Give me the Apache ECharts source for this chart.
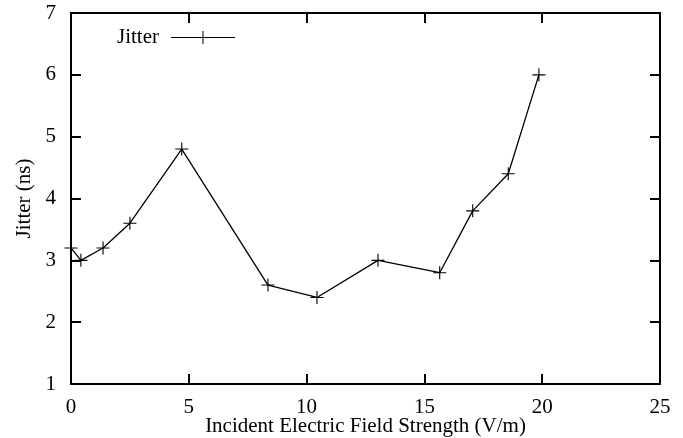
<!DOCTYPE html>
<html>
<head>
<meta charset="utf-8">
<script src="https://cdn.jsdelivr.net/npm/echarts@6/dist/echarts.min.js"></script>
<style>
  html, body { margin: 0; padding: 0; background: #fff; }
  #chart { width: 683px; height: 438px; }
</style>
</head>
<body>
<div id="chart"></div>
<script>
// field strength (V/m) and jitter (ns)
const fieldStrength = [0, 0.42, 1.36, 2.5, 4.7, 8.36, 10.44, 13.03, 15.65, 17.05, 18.56, 19.86];
const jitter = [3.2, 3.0, 3.2, 3.6, 4.8, 2.6, 2.4, 3.0, 2.8, 3.8, 4.4, 6.0];

const font = '"Liberation Serif", "DejaVu Serif", serif';
const plusIcon = 'path://M0,6.4h14v1.2h-14zM6.4,0h1.2v14h-1.2z';
const legendIcon = 'path://M0,6h64v1h-64zM31.5,0h1v13h-1z';

const chart = echarts.init(document.getElementById('chart'));

function ticks() {
    return { show: true, inside: true, length: 10, lineStyle: { color: '#000', width: 2 } };
}
function axisLine() {
    return { show: true, onZero: false, lineStyle: { color: '#000', width: 2 } };
}

chart.setOption({
    animation: false,
    backgroundColor: '#fff',
    textStyle: { fontFamily: font, color: '#000' },
    grid: { left: 71, right: 23, top: 13, bottom: 54, containLabel: false, outerBoundsMode: 'none' },
    legend: {
        left: 112,
        top: 22,
        align: 'right',
        itemWidth: 64,
        itemHeight: 13,
        itemGap: 4,
        icon: legendIcon,
        itemStyle: { color: '#000' },
        textStyle: { fontFamily: font, fontSize: 21, color: '#000', padding: [0, 7, 0, 0] },
        data: ['Jitter']
    },
    xAxis: [{
        type: 'value',
        min: 0, max: 25, interval: 5,
        name: 'Incident Electric Field Strength (V/m)',
        nameLocation: 'middle',
        nameGap: 32,
        nameMoveOverlap: false,
        nameTextStyle: { fontFamily: font, fontSize: 21, color: '#000' },
        axisLine: axisLine(),
        axisTick: ticks(),
        axisLabel: { margin: 13, fontFamily: font, fontSize: 21, color: '#000' },
        splitLine: { show: false }
    }, {
        type: 'value',
        position: 'top',
        min: 0, max: 25, interval: 5,
        axisLine: axisLine(),
        axisTick: ticks(),
        axisLabel: { show: false },
        splitLine: { show: false }
    }],
    yAxis: [{
        type: 'value',
        min: 1, max: 7, interval: 1,
        name: 'Jitter (ns)',
        nameLocation: 'middle',
        nameGap: 36,
        nameMoveOverlap: false,
        nameTextStyle: { fontFamily: font, fontSize: 21, color: '#000' },
        axisLine: axisLine(),
        axisTick: ticks(),
        axisLabel: { margin: 15, fontFamily: font, fontSize: 21, color: '#000' },
        splitLine: { show: false }
    }, {
        type: 'value',
        position: 'right',
        min: 1, max: 7, interval: 1,
        axisLine: axisLine(),
        axisTick: ticks(),
        axisLabel: { show: false },
        splitLine: { show: false }
    }],
    series: [{
        name: 'Jitter',
        type: 'line',
        data: fieldStrength.map((x, i) => [x, jitter[i]]),
        symbol: plusIcon,
        symbolSize: 13,
        showAllSymbol: true,
        itemStyle: { color: '#000' },
        lineStyle: { color: '#000', width: 1.3 }
    }]
});
</script>
</body>
</html>
